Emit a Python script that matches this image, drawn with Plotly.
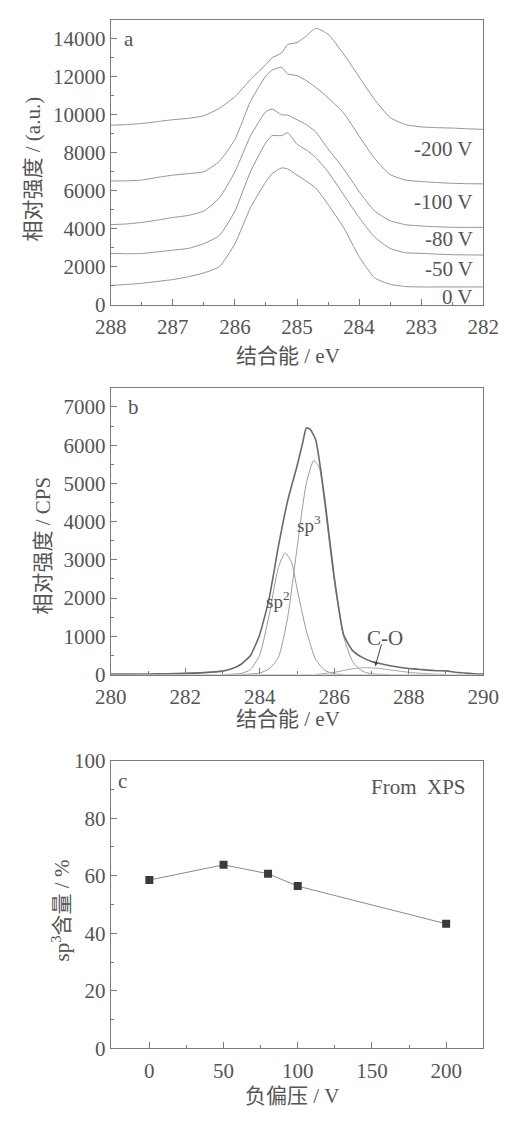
import plotly.graph_objects as go

# ---------------- panel a: C1s spectra at different bias voltages ----------------
energy_a = [288.0, 287.75, 287.5, 287.25, 287.0, 286.75, 286.5, 286.25, 286.0, 285.75,
            285.5, 285.4, 285.25, 285.15, 285.0, 284.85, 284.7, 284.5, 284.25, 284.0,
            283.75, 283.5, 283.25, 283.0, 282.75, 282.5, 282.25, 282.0]
spec_200 = [9450, 9480, 9540, 9640, 9740, 9810, 9950, 10340, 10950, 11850,
            12650, 13000, 13250, 13700, 13800, 14150, 14550, 14250, 13200, 12000,
            10800, 9850, 9480, 9360, 9320, 9300, 9260, 9230]
spec_100 = [6510, 6520, 6560, 6700, 6820, 6900, 7000, 7550, 8700, 10700,
            12050, 12350, 12500, 12150, 12060, 11800, 11450, 10900, 10100, 8880,
            7700, 6850, 6560, 6480, 6430, 6390, 6370, 6360]
spec_80 = [4210, 4250, 4330, 4450, 4590, 4700, 4930, 5620, 7000, 8880,
           10170, 10300, 10000, 9980, 9740, 9480, 9100, 8200, 7160, 5960,
           4930, 4420, 4210, 4140, 4100, 4070, 4070, 4070]
spec_50 = [2700, 2680, 2690, 2780, 2870, 2960, 3210, 3640, 4930, 7000,
           8540, 8900, 8900, 9050, 8450, 8150, 7750, 7000, 5790, 4590,
           3560, 2960, 2730, 2700, 2660, 2630, 2620, 2610]
spec_0 = [1010, 1060, 1120, 1220, 1320, 1470, 1670, 2000, 3210, 5100,
          6480, 6900, 7200, 7150, 6820, 6500, 6150, 5270, 4070, 2530,
          1410, 1070, 950, 930, 930, 930, 930, 930]
spectra_a = [spec_200, spec_100, spec_80, spec_50, spec_0]
bias_labels = ["-200 V", "-100 V", "-80 V", "-50 V", "0 V"]
bias_label_y = [8170, 5400, 3440, 1900, 410]

# ---------------- panel b: peak fitting ----------------
energy_b = [280.0, 280.5, 281.0, 281.5, 282.0, 282.5, 283.0, 283.25, 283.5, 283.75,
            284.0, 284.25, 284.5, 284.75, 285.0, 285.15, 285.25, 285.35, 285.5, 285.6,
            285.75, 286.0, 286.25, 286.5, 286.75, 287.0, 287.25, 287.5, 287.75, 288.0,
            288.25, 288.5, 288.75, 289.0, 289.25, 289.5, 289.75, 290.0]
envelope_b = [10, 10, 15, 20, 30, 50, 90, 150, 270, 500,
              1050, 1980, 3350, 4550, 5450, 6050, 6450, 6420, 6150, 5600,
              4550, 2550, 1050, 620, 450, 340, 280, 230, 190, 160,
              140, 115, 100, 95, 60, 40, 20, 10]

energy_sp3 = [283.5, 284.0, 284.25, 284.5, 284.75, 285.0, 285.25, 285.45, 285.6, 285.75,
              286.0, 286.25, 286.5, 286.75, 287.0, 287.5]
sp3_b = [0, 40, 150, 450, 1500, 3300, 5000, 5600, 5400, 4400,
         2450, 1000, 330, 90, 20, 0]

energy_sp2 = [283.0, 283.5, 283.75, 284.0, 284.25, 284.5, 284.68, 284.85, 285.0, 285.25,
              285.5, 285.75, 286.0, 286.25]
sp2_b = [0, 30, 130, 520, 1550, 2800, 3180, 2950, 2250, 1150,
         400, 110, 20, 0]

energy_co = [285.5, 286.0, 286.5, 286.8, 287.2, 287.6, 288.0, 288.5, 289.0]
co_b = [0, 60, 150, 180, 160, 110, 60, 20, 0]

# ---------------- panel c: sp3 fraction vs bias ----------------
bias_c = [0, 50, 80, 100, 200]
sp3_frac_c = [58.5, 63.8, 60.7, 56.4, 43.3]

FONT = "Liberation Serif, Noto Sans CJK SC, serif"
TXT = "#555555"
AX = "#7a7a7a"
LINE = "#939393"

fig = go.Figure()

for ys in spectra_a:
    fig.add_trace(go.Scatter(x=energy_a, y=ys, mode="lines", xaxis="x", yaxis="y",
                             line=dict(color=LINE, width=1, shape="spline", smoothing=0.5),
                             showlegend=False, hoverinfo="skip"))

fig.add_trace(go.Scatter(x=energy_sp2, y=sp2_b, mode="lines", xaxis="x2", yaxis="y2",
                         line=dict(color="#9a9a9a", width=1, shape="spline", smoothing=0.6),
                         showlegend=False))
fig.add_trace(go.Scatter(x=energy_sp3, y=sp3_b, mode="lines", xaxis="x2", yaxis="y2",
                         line=dict(color="#9a9a9a", width=1, shape="spline", smoothing=0.6),
                         showlegend=False))
fig.add_trace(go.Scatter(x=energy_co, y=co_b, mode="lines", xaxis="x2", yaxis="y2",
                         line=dict(color="#a5a5a5", width=1, shape="spline", smoothing=0.6),
                         showlegend=False))
fig.add_trace(go.Scatter(x=[280, 290], y=[0, 0], mode="lines", xaxis="x2", yaxis="y2",
                         line=dict(color="#b0b0b0", width=1), showlegend=False))
fig.add_trace(go.Scatter(x=energy_b, y=envelope_b, mode="lines", xaxis="x2", yaxis="y2",
                         line=dict(color="#6a6a6a", width=1.6, shape="spline", smoothing=0.5),
                         showlegend=False))

fig.add_trace(go.Scatter(x=bias_c, y=sp3_frac_c, mode="lines+markers", xaxis="x3", yaxis="y3",
                         line=dict(color="#8a8a8a", width=1),
                         marker=dict(symbol="square", size=8, color="#3a3a3a"),
                         showlegend=False))

tickfont = dict(family=FONT, size=21, color=TXT)
common = dict(showline=True, linecolor=AX, linewidth=1.2, mirror=True, ticks="inside",
              ticklen=6, tickcolor=AX, tickfont=tickfont, showgrid=False, zeroline=False,
              tickformat="d")
xcommon = dict(common, ticklabelstandoff=3)

xdom = [101 / 518, 498 / 518]
H = 1124.0

fig.update_layout(
    width=518, height=1124, autosize=False,
    margin=dict(l=0, r=0, t=0, b=0),
    paper_bgcolor="white", plot_bgcolor="white",
    font=dict(family=FONT, color=TXT),
    xaxis=dict(domain=xdom, anchor="y", range=[288, 282], tickvals=[288, 287, 286, 285, 284, 283, 282],
               minor=dict(dtick=0.5, ticks="inside", ticklen=3, tickcolor=AX), **xcommon),
    yaxis=dict(domain=[1 - 299 / H, 1 - 8 / H], anchor="x", range=[0, 15000], dtick=2000,
               minor=dict(dtick=1000, ticks="inside", ticklen=3, tickcolor=AX), **common),
    xaxis2=dict(domain=xdom, anchor="y2", range=[280, 290], dtick=2,
                minor=dict(dtick=1, ticks="inside", ticklen=3, tickcolor=AX), **xcommon),
    yaxis2=dict(domain=[1 - 677 / H, 1 - 384 / H], anchor="x2", range=[0, 7500], dtick=1000,
                minor=dict(dtick=500, ticks="inside", ticklen=3, tickcolor=AX), **common),
    xaxis3=dict(domain=xdom, anchor="y3", range=[-26, 225], tickvals=[0, 50, 100, 150, 200],
                minor=dict(tickvals=[25, 75, 125, 175], ticks="inside", ticklen=3, tickcolor=AX), **xcommon),
    yaxis3=dict(domain=[1 - 1059 / H, 1 - 765 / H], anchor="x3", range=[0, 100], dtick=20,
                minor=dict(dtick=10, ticks="inside", ticklen=3, tickcolor=AX), **common),
)

ann = []
lab = dict(family=FONT, size=21, color=TXT)
mid = dict(xanchor="center", yanchor="middle", showarrow=False)

# panel a labels
ann.append(dict(x=287.7, y=14000, xref="x", yref="y", text="a", font=lab, **mid))
for t, yv in zip(bias_labels, bias_label_y):
    ann.append(dict(x=282.13, y=yv, xref="x", yref="y", text=t, showarrow=False,
                    xanchor="right", yanchor="middle", font=lab))
ann.append(dict(x=290 / 518, y=1 - 352 / H, xref="paper", yref="paper", text="结合能 / eV",
                font=lab, **mid))
ann.append(dict(x=18 / 518, y=1 - 160 / H, xref="paper", yref="paper", text="相对强度 / (a.u.)",
                textangle=-90, font=lab, **mid))

# panel b labels
ann.append(dict(x=280.6, y=7000, xref="x2", yref="y2", text="b", font=lab, **mid))
ann.append(dict(x=285.33, y=3950, xref="x2", yref="y2", text="sp<sup>3</sup>",
                font=dict(family=FONT, size=19, color=TXT), **mid))
ann.append(dict(x=284.5, y=1950, xref="x2", yref="y2", text="sp<sup>2</sup>",
                font=dict(family=FONT, size=19, color=TXT), **mid))
ann.append(dict(x=287.1, y=220, ax=287.28, ay=830, xref="x2", yref="y2", axref="x2", ayref="y2",
                text="", showarrow=True, arrowhead=2, arrowsize=0.8, arrowwidth=1, arrowcolor="#444"))
ann.append(dict(x=287.35, y=950, xref="x2", yref="y2", text="C-O", font=lab, **mid))
ann.append(dict(x=290 / 518, y=1 - 722 / H, xref="paper", yref="paper", text="结合能 / eV",
                font=lab, **mid))
ann.append(dict(x=29 / 518, y=1 - 545 / H, xref="paper", yref="paper", text="相对强度 / CPS",
                textangle=-90, font=lab, **mid))

# panel c labels
ann.append(dict(x=-18, y=93, xref="x3", yref="y3", text="c", font=lab, **mid))
ann.append(dict(x=482 / 518, y=1 - 792 / H, xref="paper", yref="paper", text="From&nbsp;&nbsp;XPS",
                showarrow=False, xanchor="right", yanchor="middle", font=lab))
ann.append(dict(x=295 / 518, y=1 - 1108 / H, xref="paper", yref="paper", text="负偏压 / V",
                font=lab, **mid))
ann.append(dict(x=48 / 518, y=1 - 918 / H, xref="paper", yref="paper", text="sp<sup>3</sup>含量 / %",
                textangle=-90, font=lab, **mid))

fig.update_layout(annotations=ann)

# drop the default page margin so the 518x1124 figure fills the window exactly
page_css = ("document.body.style.margin='0';"
            "document.documentElement.style.overflow='hidden';"
            "document.body.style.overflow='hidden';")
fig.write_html("out.html", post_script=page_css)
